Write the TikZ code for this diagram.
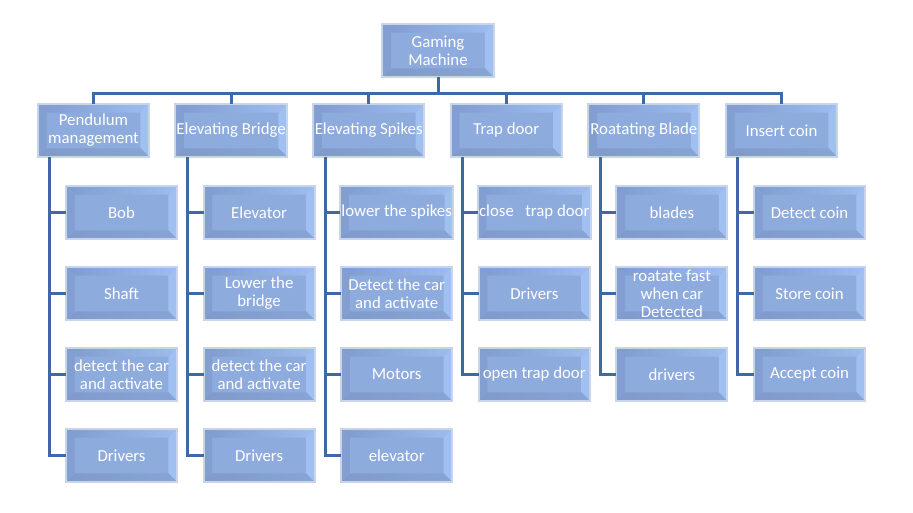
\documentclass[tikz,border=0pt]{standalone}
\usepackage{fontspec}
\setmainfont{Carlito}
\begin{document}
\begin{tikzpicture}[x=0.75pt,y=-0.75pt]
\definecolor{face}{RGB}{142,171,222}
\definecolor{bevtopL}{RGB}{128,156,207}
\definecolor{bevtopR}{RGB}{158,188,238}
\definecolor{bevleft}{RGB}{131,158,208}
\definecolor{bevright}{RGB}{160,192,242}
\definecolor{bevbotL}{RGB}{128,154,204}
\definecolor{bevbotR}{RGB}{136,163,213}
\definecolor{bordercol}{RGB}{200,212,232}
\definecolor{conncol}{RGB}{64,103,166}
\tikzset{
  bevbox/.style={rectangle, fill=face, draw=bordercol, line width=1.5pt,
    minimum width=83.3pt, minimum height=39.8pt, inner sep=1pt, outer sep=0pt,
    align=center, text=white, font=\fontsize{12.6}{13.4}\selectfont,
    path picture={
      \fill[left color=bevtopL, right color=bevtopR]
        (path picture bounding box.north west) -- (path picture bounding box.north east)
        -- ([shift={(-6.5pt,-6.5pt)}]path picture bounding box.north east)
        -- ([shift={(6.5pt,-6.5pt)}]path picture bounding box.north west) -- cycle;
      \fill[bevleft]
        (path picture bounding box.north west)
        -- ([shift={(6.5pt,-6.5pt)}]path picture bounding box.north west)
        -- ([shift={(6.5pt,6.5pt)}]path picture bounding box.south west)
        -- (path picture bounding box.south west) -- cycle;
      \fill[bevright]
        (path picture bounding box.north east)
        -- ([shift={(-6.5pt,-6.5pt)}]path picture bounding box.north east)
        -- ([shift={(-6.5pt,6.5pt)}]path picture bounding box.south east)
        -- (path picture bounding box.south east) -- cycle;
      \fill[left color=bevbotL, right color=bevbotR]
        (path picture bounding box.south west) -- (path picture bounding box.south east)
        -- ([shift={(-6.5pt,6.5pt)}]path picture bounding box.south east)
        -- ([shift={(6.5pt,6.5pt)}]path picture bounding box.south west) -- cycle;
    }},
  conn/.style={draw=conncol, line width=2.25pt}
}
\useasboundingbox[fill=white] (0,0) rectangle (913,513);

% root
\node[bevbox] (root) at (438,50.5) {Gaming\\Machine};

% level 1
\node[bevbox] (c0) at (93.5,130.5) {Pendulum\\management};
\node[bevbox] (c1) at (231.1,130.5) {Elevating Bridge};
\node[bevbox] (c2) at (368.7,130.5) {Elevating Spikes};
\node[bevbox] (c3) at (506.3,130.5) {Trap door};
\node[bevbox] (c4) at (643.9,130.5) {Roatating Blade};
\node[bevbox] (c5) at (781.5,130.5) {Insert coin};

% level 2
\node[bevbox] (d00) at (121.5,212.5) {Bob};
\node[bevbox] (d01) at (121.5,293.5) {Shaft};
\node[bevbox] (d02) at (121.5,374.5) {detect the car\\and activate};
\node[bevbox] (d03) at (121.5,455.5) {Drivers};

\node[bevbox] (d10) at (259.1,212.5) {Elevator};
\node[bevbox] (d11) at (259.1,293.5) {Lower the\\bridge};
\node[bevbox] (d12) at (259.1,374.5) {detect the car\\and activate};
\node[bevbox] (d13) at (259.1,455.5) {Drivers};

\node[bevbox] (d20) at (396.7,212.5) {lower the spikes};
\node[bevbox] (d21) at (396.7,293.5) {Detect the car\\and activate};
\node[bevbox] (d22) at (396.7,374.5) {Motors};
\node[bevbox] (d23) at (396.7,455.5) {elevator};

\node[bevbox] (d30) at (534.3,212.5) {close\ \ \ trap door};
\node[bevbox] (d31) at (534.3,293.5) {Drivers};
\node[bevbox] (d32) at (534.3,374.5) {open trap door};

\node[bevbox] (d40) at (671.9,212.5) {blades};
\node[bevbox] (d41) at (671.9,293.5) {roatate fast\\when car\\Detected};
\node[bevbox] (d42) at (671.9,374.5) {drivers};

\node[bevbox] (d50) at (809.5,212.5) {Detect coin};
\node[bevbox] (d51) at (809.5,293.5) {Store coin};
\node[bevbox] (d52) at (809.5,374.5) {Accept coin};

% connectors root -> level 1
\foreach \i in {0,...,5}{
  \draw[conn] (c\i.north) -- ++(0,-10) -| (root.south);
}
% connectors level 1 -> level 2
\foreach \i/\j in {0/0,0/1,0/2,0/3,1/0,1/1,1/2,1/3,2/0,2/1,2/2,2/3,3/0,3/1,3/2,4/0,4/1,4/2,5/0,5/1,5/2}{
  \draw[conn] ([xshift=9pt]c\i.south west) |- (d\i\j.west);
}
\end{tikzpicture}
\end{document}
